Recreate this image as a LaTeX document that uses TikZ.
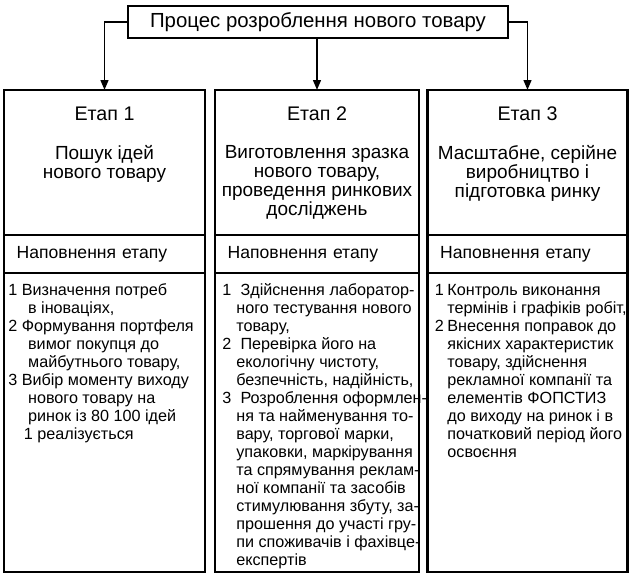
\documentclass[tikz,border=0pt]{standalone}
\usepackage{fontspec}
\setmainfont{Liberation Sans}
\usetikzlibrary{positioning,arrows.meta}
\begin{document}
\begin{tikzpicture}[x=0.025cm, y=-0.025cm,
  cell/.style={draw, line width=1.5pt, outer sep=0pt, inner sep=0pt},
  arr/.style={-{Triangle[length=7pt,width=5.5pt]}, line width=1.3pt},
  etap/.style={font=\fontsize{14}{16}\selectfont, inner sep=0pt},
  desc/.style={font=\fontsize{13.5}{13.6}\selectfont, align=center, inner sep=0pt, anchor=north},
  head/.style={cell, font=\fontsize{12.5}{14}\selectfont, align=left, inner xsep=9pt, minimum height=0.95cm},
  body/.style={font=\fontsize{11.5}{12.8}\selectfont, anchor=north west, inner sep=0pt}]
\useasboundingbox (0,0) rectangle (640,586);
\node[cell, minimum width=9.5cm, minimum height=0.8cm, font=\fontsize{14.5}{16}\selectfont] (title) at (318,22) {Процес розроблення нового товару};
\node[cell, minimum width=5.025cm, minimum height=3.625cm] (s1) at (104.5,162.5) {};
\node[cell, minimum width=5.1cm, minimum height=3.625cm] (s2) at (317,162.5) {};
\node[cell, minimum width=5.0cm, minimum height=3.625cm] (s3) at (527.5,162.5) {};
\node[head, text width=4.39cm, below=0pt of s1] (h1) {Наповнення етапу};
\node[head, text width=4.465cm, below=0pt of s2] (h2) {Наповнення етапу};
\node[head, text width=4.365cm, below=0pt of s3] (h3) {Наповнення етапу};
\node[cell, minimum width=5.025cm, minimum height=7.475cm, below=0pt of h1] (c1) {};
\node[cell, minimum width=5.1cm, minimum height=7.475cm, below=0pt of h2] (c2) {};
\node[cell, minimum width=5.0cm, minimum height=7.475cm, below=0pt of h3] (c3) {};
\node[etap] (e1) at (104.5,114) {Етап 1};
\node[etap] (e2) at (317,114) {Етап 2};
\node[etap] (e3) at (527.5,114) {Етап 3};
\node[desc] (d1) at (104.5,145) {Пошук ідей\\нового товару};
\node[desc] (d2) at (317,145) {Виготовлення зразка\\нового товару,\\проведення ринкових\\досліджень};
\node[desc] (d3) at (527.5,145) {Масштабне, серійне\\виробництво і\\підготовка ринку};
\node[body] (t1) at ([shift={(3pt,-6.5pt)}]c1.north west) {\begin{tabular}{@{}p{7pt}@{}l@{}}
1&\hspace{2.5pt}Визначення потреб\\
&\hspace{7pt}в іноваціях,\\
2&\hspace{2.5pt}Формування портфеля\\
&\hspace{7pt}вимог покупця до\\
&\hspace{7pt}майбутнього товару,\\
3&\hspace{2.5pt}Вибір моменту виходу\\
&\hspace{7pt}нового товару на\\
&\hspace{7pt}ринок із 80 100 ідей\\
&\hspace{4pt}1 реалізується
\end{tabular}};
\node[body] (t2) at ([shift={(5pt,-6.5pt)}]c2.north west) {\begin{tabular}{@{}p{10pt}@{}l@{}}
1&\hspace{3pt}Здійснення лаборатор-\\
&ного тестування нового\\
&товару,\\
2&\hspace{3pt}Перевірка його на\\
&екологічну чистоту,\\
&безпечність, надійність,\\
3&\hspace{3pt}Розроблення оформлен-\\
&ня та найменування то-\\
&вару, торгової марки,\\
&упаковки, маркірування\\
&та спрямування реклам-\\
&ної компанії та засобів\\
&стимулювання збуту, за-\\
&прошення до участі гру-\\
&пи споживачів і фахівце-\\
&експертів
\end{tabular}};
\node[body] (t3) at ([shift={(5pt,-6.5pt)}]c3.north west) {\begin{tabular}{@{}p{7pt}@{}l@{}}
1&\hspace{2pt}Контроль виконання\\
&\hspace{2pt}термінів і графіків робіт,\\
2&\hspace{2pt}Внесення поправок до\\
&\hspace{2pt}якісних характеристик\\
&\hspace{2pt}товару, здійснення\\
&\hspace{2pt}рекламної компанії та\\
&\hspace{2pt}елементів ФОПСТИЗ\\
&\hspace{2pt}до виходу на ринок і в\\
&\hspace{2pt}початковий період його\\
&\hspace{2pt}освоєння
\end{tabular}};
\draw[arr] (title.west) -| (s1.north);
\draw[arr] (title.south -| s2.north) -- (s2.north);
\draw[arr] (title.east) -| (s3.north);
\end{tikzpicture}
\end{document}
